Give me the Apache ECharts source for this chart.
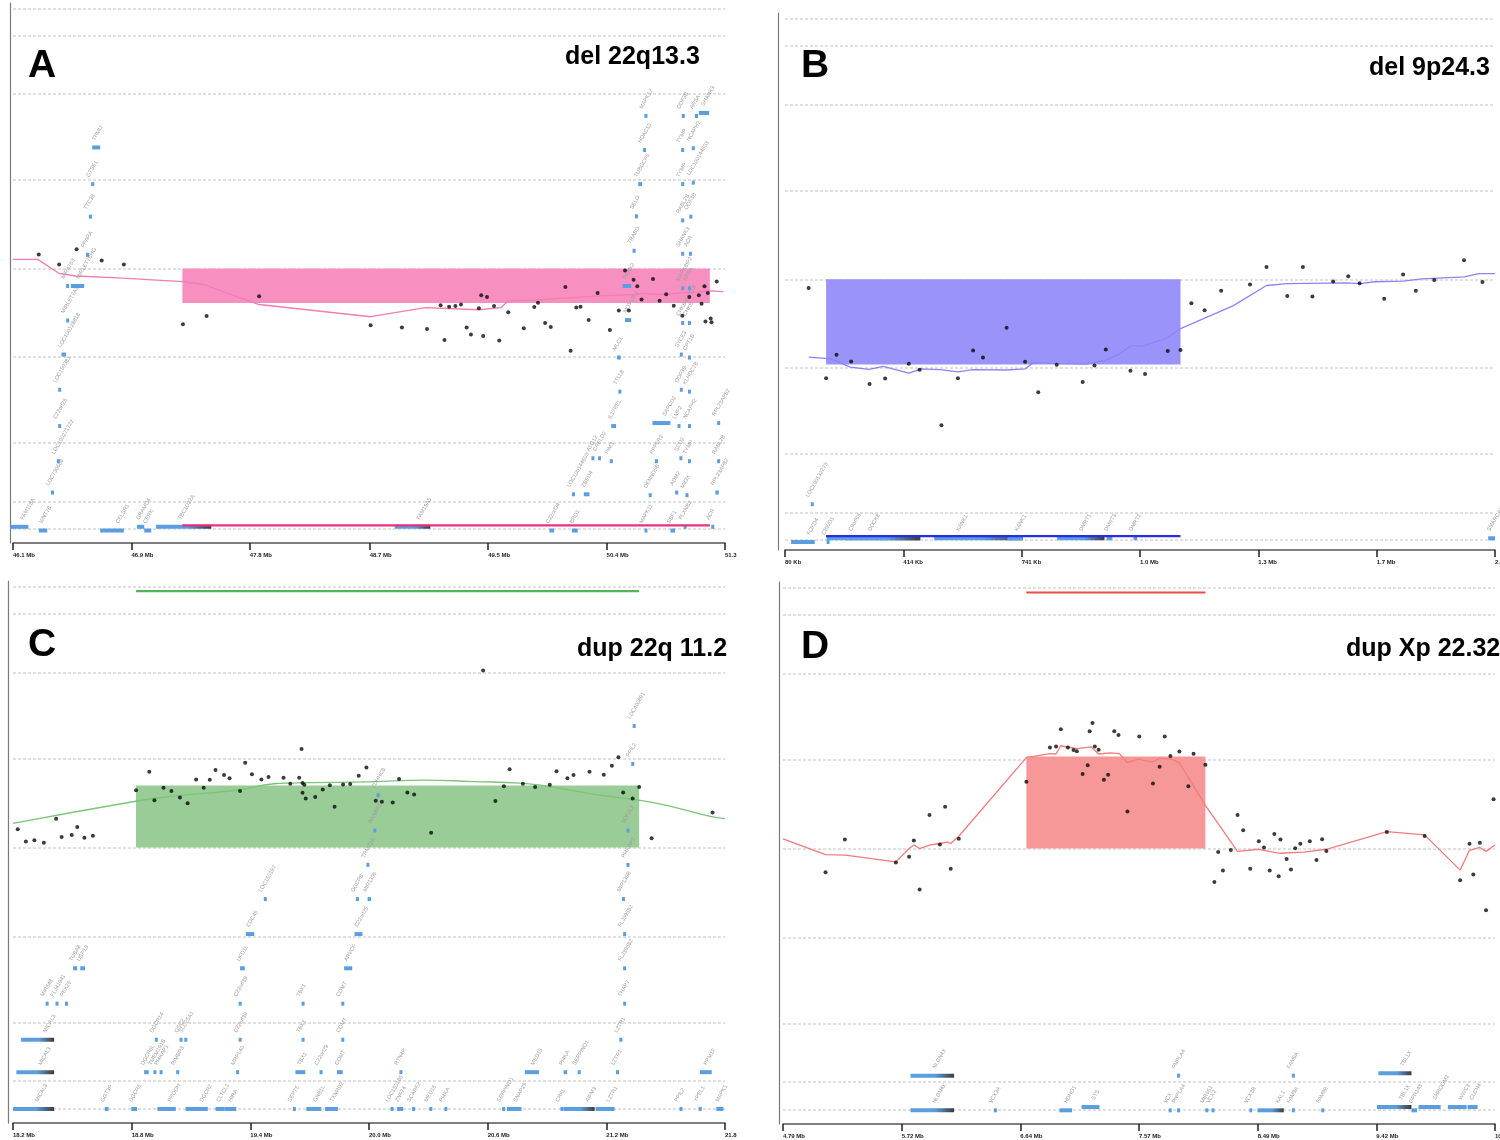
<!DOCTYPE html>
<html>
<head>
<meta charset="utf-8">
<script src="https://cdn.jsdelivr.net/npm/echarts@6.0.0/dist/echarts.min.js"></script>
<style>
html,body{margin:0;padding:0;background:#fff}
#main{width:1500px;height:1140px}
</style>
</head>
<body>
<div id="main"></div>
<script>
// ---------- data ----------
var gridLevels = [2.94, 2.63, 1.97, 1.0, 0, -1.0, -1.97, -2.63, -2.94];

// A : del 22q13.3
var ticksA = [46.08, 46.94, 47.80, 48.67, 49.53, 50.39, 51.25];
var tickLabelsA = ['46.1 Mb', '46.9 Mb', '47.8 Mb', '48.7 Mb', '49.5 Mb', '50.4 Mb', '51.3'];
var pointsA = [[46.267,0.159],[46.415,0.046],[46.542,0.217],[46.724,0.092],[46.885,0.046],[47.314,-0.628],[47.486,-0.536],[47.867,-0.314],[48.677,-0.641],[48.904,-0.666],[49.086,-0.682],[49.185,-0.415],[49.213,-0.808],[49.247,-0.431],[49.292,-0.423],[49.333,-0.406],[49.374,-0.666],[49.405,-0.745],[49.463,-0.448],[49.480,-0.302],[49.494,-0.762],[49.522,-0.322],[49.573,-0.423],[49.611,-0.812],[49.676,-0.494],[49.789,-0.674],[49.865,-0.435],[49.892,-0.385],[49.944,-0.615],[49.985,-0.661],[50.091,-0.209],[50.129,-0.929],[50.170,-0.440],[50.201,-0.431],[50.260,-0.582],[50.325,-0.276],[50.414,-0.695],[50.479,-0.473],[50.524,-0.021],[50.552,-0.473],[50.586,-0.126],[50.613,-0.201],[50.644,-0.348],[50.727,-0.117],[50.775,-0.364],[50.823,-0.289],[50.878,-0.419],[50.940,-0.532],[50.991,-0.322],[51.060,-0.302],[51.080,-0.398],[51.101,-0.201],[51.108,-0.599],[51.125,-0.276],[51.146,-0.565],[51.152,-0.607],[51.190,-0.147]];
var trendA = [[46.08,0.104],[46.26,0.104],[46.415,-0.055],[46.535,-0.084],[46.844,-0.105],[47.314,-0.147],[47.462,-0.180],[47.867,-0.406],[48.677,-0.544],[49.075,-0.440],[49.463,-0.465],[49.625,-0.440],[49.676,-0.364],[49.865,-0.356],[50.277,-0.314],[50.586,-0.293],[50.655,-0.281],[50.792,-0.293],[50.963,-0.272],[51.066,-0.264],[51.135,-0.251],[51.238,-0.260]];
var boxA = [47.31, 51.14, 0, -0.39];
var trackA = [47.31, 51.14, -2.90];
var genesA = [
  [46.061,46.192,-2.917,'FAM118A'],[46.267,46.329,-2.959,'WNT7B'],[46.713,46.885,-2.959,'CELSR1'],
  [46.981,47.033,-2.917,'GRAMD4'],[47.033,47.084,-2.959,'CERK'],[47.119,47.520,-2.917,'TBC1D22A'],
  [48.852,49.110,-2.917,'FAM19A5'],[49.975,50.009,-2.959,'C22orf34'],[50.139,50.181,-2.959,'BRD1'],
  [50.665,50.671,-2.959,'MAPK11'],[50.854,50.888,-2.959,'SBF1'],[50.950,50.956,-2.917,'PLXNB2'],
  [51.150,51.156,-2.917,'ACR'],
  [46.356,46.362,-2.53,'LOC730668'],[46.398,46.404,-2.176,'LOC100271722'],[46.408,46.414,-1.779,'C22orf26'],
  [46.408,46.414,-1.369,'LOC150381'],[46.432,46.466,-0.971,'LOC100128818'],[46.466,46.472,-0.586,'MIRLET7A3'],
  [46.466,46.472,-0.197,'MIR4763'],[46.500,46.597,-0.197,'MIRLET7BHG'],[46.610,46.616,0.155,'PPARA'],
  [46.631,46.637,0.586,'TTC38'],[46.648,46.654,0.954,'GTSE1'],[46.655,46.713,1.368,'TRMU'],
  [50.139,50.145,-2.55,'LOC100144603'],[50.225,50.266,-2.55,'ZBED4'],[50.280,50.286,-2.143,'ALG12'],
  [50.328,50.334,-2.143,'CRELD2'],[50.414,50.420,-2.176,'PIM3'],[50.424,50.459,-1.779,'IL17REL'],
  [50.476,50.482,-1.39,'TTLL8'],[50.466,50.493,-1.005,'MLC1'],[50.524,50.569,-0.582,'MOV10L1'],
  [50.507,50.569,-0.197,'PANX2'],[50.579,50.585,0.201,'TRABD'],[50.596,50.602,0.590,'SELO'],
  [50.620,50.648,0.954,'TUBGCP6'],[50.655,50.661,1.339,'HDAC10'],[50.665,50.671,1.724,'MAPK12'],
  [50.723,50.854,-1.745,'SAPCD2'],[50.696,50.702,-2.56,'DENND6B'],[50.741,50.747,-2.176,'PPP6R2'],
  [50.888,50.894,-2.53,'ADM2'],[50.963,50.969,-2.56,'MIOX'],[50.905,50.911,-1.779,'LMF2'],
  [50.981,50.987,-1.779,'NCAPH2'],[50.919,50.925,-2.143,'SCO2'],[50.981,50.987,-2.176,'TYMP'],
  [50.922,50.928,-1.369,'ODF3B'],[50.981,50.987,-1.39,'KLHDC7B'],[50.922,50.928,-0.971,'SYCE3'],
  [50.981,50.987,-1.005,'CPT1B'],[50.932,50.938,-0.615,'CHKB-CPT1B'],[50.981,50.987,-0.615,'CHKB'],
  [50.932,50.938,-0.222,'MAPK8IP2'],[50.981,50.987,-0.222,'ARSA'],[50.932,50.938,0.167,'SHANK3'],
  [50.988,50.994,0.167,'ACR'],[50.932,50.938,0.544,'RABL2B'],[50.991,50.997,0.586,'ODF3B'],
  [50.932,50.938,0.954,'TYMP'],[51.009,51.015,0.971,'LOC100144603'],[50.932,50.938,1.339,'TYMP'],
  [51.009,51.015,1.36,'NCAPH2'],[50.936,50.942,1.724,'ODF3B'],[51.032,51.038,1.724,'ARSA'],
  [51.060,51.135,1.758,'SHANK3'],[51.193,51.199,-2.176,'RABL2B'],[51.193,51.199,-1.745,'RPL23AP82'],
  [51.180,51.205,-2.53,'RPL23AP82']
];

// B : del 9p24.3 (kb)
var ticksB = [80, 410, 740, 1070, 1400, 1730, 2060];
var tickLabelsB = ['80 Kb', '414 Kb', '741 Kb', '1.0 Mb', '1.3 Mb', '1.7 Mb', '2.0'];
var pointsB = [[145.9,-0.099],[194.6,-1.114],[223.6,-0.851],[264.5,-0.926],[315.9,-1.181],[359.3,-1.118],[425.2,-0.951],[455.5,-1.018],[516.2,-1.644],[562.3,-1.114],[604.5,-0.801],[632.1,-0.880],[698.0,-0.546],[749.4,-0.930],[786.3,-1.273],[837.7,-0.964],[910.2,-1.156],[943.1,-0.972],[974.7,-0.792],[1043.3,-1.030],[1084.1,-1.068],[1147.4,-0.809],[1183.0,-0.797],[1213.3,-0.270],[1250.2,-0.350],[1296.3,-0.128],[1376.7,-0.058],[1422.8,0.139],[1480.8,-0.187],[1524.3,0.139],[1550.7,-0.195],[1608.7,-0.024],[1650.8,0.034],[1682.4,-0.045],[1751.0,-0.220],[1803.7,0.055],[1839.2,-0.128],[1890.6,-0.007],[1973.6,0.214],[2025.0,-0.032]];
var trendB = [[145.9,-0.876],[209.1,-0.897],[261.8,-0.989],[314.5,-1.014],[354.1,-0.980],[425.2,-1.056],[459.5,-1.010],[512.2,-1.018],[562.3,-1.043],[604.5,-1.018],[696.7,-1.022],[749.4,-1.010],[773.1,-0.939],[828.5,-0.947],[920.7,-0.955],[973.4,-0.914],[1013.0,-0.843],[1043.3,-0.751],[1078.9,-0.751],[1144.7,-0.663],[1183.0,-0.555],[1329.2,-0.300],[1422.8,-0.070],[1480.8,-0.049],[1645.5,-0.041],[1685.0,-0.049],[1724.5,-0.028],[1803.7,-0.020],[1856.4,0.005],[1975.0,0.026],[2014.5,0.064],[2060,0.064]];
var boxB = [194.6, 1183.0, 0, -0.96];
var trackB = [194.6, 1183.0, -2.893];
var genesB = [
  [97,163,-2.960,'FOXD4'],[196,202,-2.960,'CBWD1'],[196,457,-2.918,'C9orf66'],[250,457,-2.918,'DOCK8'],
  [496,743,-2.918,'KANK1'],[700,743,-2.918,'KANK1'],[839,971,-2.918,'DMRT1'],[977,993,-2.918,'DMRT3'],
  [1052,1062,-2.918,'DMRT2'],[2041,2060,-2.918,'SMARCA2'],[152,155,-2.534,'LOC100132273']
];

// C : dup 22q 11.2
var ticksC = [18.2, 18.8, 19.4, 20.0, 20.6, 21.2, 21.8];
var tickLabelsC = ['18.2 Mb', '18.8 Mb', '19.4 Mb', '20.0 Mb', '20.6 Mb', '21.2 Mb', '21.8'];
var pointsC = [[18.186,0.244],[18.224,0.207],[18.265,0.069],[18.308,0.081],[18.356,0.053],[18.418,0.325],[18.446,0.118],[18.497,0.142],[18.525,0.231],[18.561,0.110],[18.604,0.134],[18.822,0.645],[18.889,0.852],[18.915,0.532],[18.961,0.674],[19.001,0.637],[19.044,0.564],[19.083,0.499],[19.126,0.767],[19.164,0.674],[19.195,0.763],[19.224,0.873],[19.267,0.816],[19.295,0.779],[19.348,0.637],[19.374,0.954],[19.408,0.824],[19.456,0.767],[19.492,0.795],[19.568,0.787],[19.602,0.718],[19.647,0.787],[19.659,1.108],[19.664,0.726],[19.664,0.617],[19.673,0.706],[19.680,0.552],[19.728,0.568],[19.766,0.653],[19.802,0.702],[19.826,0.459],[19.869,0.710],[19.905,0.714],[19.948,0.808],[19.987,0.901],[20.034,0.528],[20.065,0.516],[20.120,0.507],[20.152,0.771],[20.194,0.621],[20.228,0.597],[20.314,0.166],[20.577,1.993],[20.639,0.524],[20.682,0.690],[20.711,0.881],[20.778,0.718],[20.840,0.682],[20.914,0.706],[20.948,0.860],[21.003,0.779],[21.034,0.816],[21.115,0.852],[21.187,0.820],[21.228,0.921],[21.261,1.015],[21.285,0.621],[21.333,0.552],[21.366,0.682],[21.429,0.106],[21.737,0.394]];
var trendC = [[18.2,0.272],[18.827,0.524],[18.994,0.576],[19.329,0.645],[19.520,0.718],[19.604,0.726],[19.712,0.731],[19.998,0.739],[20.285,0.759],[20.524,0.743],[20.764,0.726],[20.883,0.698],[21.122,0.605],[21.314,0.548],[21.481,0.487],[21.720,0.353],[21.8,0.325]];
var boxC = [18.822, 21.366, 0.698, 0];
var trackC = [18.822, 21.366, 2.885];
var genesC = [
  [18.200,18.408,-2.942,'MICAL3'],[18.664,18.683,-2.942,'GGT3P'],[18.798,18.827,-2.942,'DGCR6'],
  [18.930,19.023,-2.942,'PRODH'],[19.073,19.185,-2.942,'DGCR2'],[19.224,19.270,-2.942,'CLTCL1'],
  [19.270,19.329,-2.942,'HIRA'],[19.615,19.620,-2.942,'SEPT5'],[19.683,19.759,-2.942,'GNB1L'],
  [19.778,19.843,-2.942,'TXNRD2'],[20.109,20.113,-2.942,'LOC150185'],[20.142,20.173,-2.942,'ZNF74'],
  [20.218,20.222,-2.942,'SCARF2'],[20.305,20.309,-2.942,'MED15'],[20.381,20.385,-2.942,'PI4KA'],
  [20.673,20.677,-2.942,'SERPIND1'],[20.697,20.771,-2.942,'SNAP29'],[20.968,20.972,-2.942,'CRKL'],
  [20.984,21.141,-2.942,'AIFM3'],[21.146,21.242,-2.942,'LZTR1'],[21.570,21.574,-2.942,'PPIL2'],
  [21.667,21.671,-2.942,'YPEL1'],[21.756,21.792,-2.942,'MAPK1'],
  [18.217,18.408,-2.528,'MICAL3'],[18.863,18.886,-2.528,'DGCR6L'],[18.910,18.914,-2.528,'TMEM191B'],
  [18.941,18.945,-2.528,'PI4KAP1'],[19.025,19.029,-2.528,'RIMBP3'],[19.328,19.332,-2.528,'MRPL40'],
  [19.628,19.678,-2.528,'TBX1'],[19.750,19.754,-2.528,'C22orf29'],[19.838,19.867,-2.528,'COMT'],
  [20.154,20.158,-2.528,'RTN4R'],[20.788,20.859,-2.528,'MED15'],[20.984,21.002,-2.528,'PI4KA'],
  [21.055,21.059,-2.528,'SERPIND1'],[21.249,21.253,-2.528,'LZTR1'],[21.673,21.733,-2.528,'PPM1F'],
  [18.241,18.408,-2.163,'MICAL3'],[18.917,18.921,-2.163,'DGCR14'],[19.042,19.046,-2.163,'GSC2'],
  [19.066,19.070,-2.163,'SLC25A1'],[19.341,19.345,-2.163,'C22orf39'],[19.659,19.663,-2.163,'TBX1'],
  [19.860,19.864,-2.163,'COMT'],[21.266,21.270,-2.163,'LZTR1'],
  [18.365,18.369,-1.757,'MIR648'],[18.415,18.419,-1.757,'FLJ41941'],[18.463,18.467,-1.757,'PEX26'],
  [19.341,19.345,-1.757,'C22orf39'],[19.659,19.663,-1.757,'TBX1'],[19.860,19.864,-1.757,'COMT'],
  [21.285,21.289,-1.757,'THAP7'],
  [18.504,18.525,-1.359,'TUBA8'],[18.540,18.564,-1.359,'USP18'],[19.348,19.372,-1.359,'UFD1L'],
  [19.874,19.915,-1.359,'ARVCF'],[21.285,21.289,-1.359,'FLJ39582'],
  [19.377,19.420,-0.974,'CDC45'],[19.927,19.967,-0.974,'C22orf25'],[21.285,21.289,-0.974,'FLJ39582'],
  [19.468,19.472,-0.580,'LOC150197'],[19.934,19.938,-0.580,'DGCR8'],[19.993,20.010,-0.580,'MIR1306'],
  [21.279,21.283,-0.580,'MIR130B'],[19.987,19.991,-0.195,'TRMT2A'],[21.302,21.306,-0.195,'PI4KAP2'],
  [20.022,20.026,0.191,'RANBP1'],[21.302,21.306,0.191,'SDF2L1'],[20.039,20.043,0.589,'ZDHHC8'],
  [21.326,21.330,0.941,'PPIL2'],[21.333,21.342,1.368,'LOC400891']
];

// D : dup Xp 22.32
var ticksD = [4.79, 5.716, 6.642, 7.568, 8.494, 9.42, 10.346];
var tickLabelsD = ['4.79 Mb', '5.72 Mb', '6.64 Mb', '7.57 Mb', '8.49 Mb', '9.42 Mb', '10.3'];
var pointsD = [[5.122,-0.267],[5.273,0.102],[5.671,-0.158],[5.774,-0.093],[5.811,0.090],[5.856,-0.462],[5.933,0.378],[6.014,0.045],[6.055,0.471],[6.099,-0.227],[6.162,0.110],[6.689,0.751],[6.873,1.137],[6.921,1.149],[6.958,1.344],[7.013,1.137],[7.057,1.108],[7.083,1.096],[7.128,0.840],[7.168,0.938],[7.183,1.319],[7.205,1.413],[7.223,1.149],[7.253,1.112],[7.294,0.775],[7.327,0.832],[7.375,1.319],[7.408,1.279],[7.478,0.418],[7.570,1.262],[7.677,0.731],[7.729,0.922],[7.769,1.262],[7.813,1.043],[7.883,1.092],[7.953,0.702],[7.994,1.068],[8.086,0.942],[8.156,-0.377],[8.186,-0.040],[8.223,-0.247],[8.285,-0.016],[8.337,0.378],[8.381,0.207],[8.436,-0.227],[8.503,0.081],[8.543,0.012],[8.588,-0.247],[8.624,0.163],[8.658,-0.312],[8.672,0.102],[8.720,-0.117],[8.754,-0.235],[8.787,0.004],[8.827,0.053],[8.901,0.081],[8.953,-0.130],[8.997,0.106],[9.030,-0.028],[9.502,0.187],[9.797,0.142],[10.074,-0.357],[10.147,0.053],[10.177,-0.292],[10.228,0.065],[10.276,-0.694],[10.335,0.556]];
var trendD = [[4.79,0.110],[5.122,-0.069],[5.277,-0.073],[5.671,-0.150],[5.774,0.000],[5.811,0.041],[5.856,0.000],[5.940,0.041],[6.014,0.057],[6.069,0.073],[6.099,0.057],[6.162,0.138],[6.689,1.023],[6.873,1.068],[6.921,1.064],[6.958,1.157],[7.083,1.124],[7.194,1.145],[7.253,1.064],[7.341,1.076],[7.415,1.068],[7.478,0.966],[7.563,1.007],[7.673,0.974],[7.729,1.015],[7.821,1.007],[7.883,0.966],[8.086,0.487],[8.337,-0.032],[8.503,-0.008],[8.543,-0.020],[8.669,-0.053],[8.853,-0.040],[9.030,-0.008],[9.502,0.191],[9.797,0.154],[10.074,-0.243],[10.147,-0.020],[10.228,0.012],[10.276,-0.032],[10.346,0.041]];
var boxD = [6.689, 8.086, 1.035, 0];
var trackD = [6.689, 8.086, 2.882];
var genesD = [
  [5.785,6.125,-2.946,'NLGN4X'],[6.436,6.440,-2.946,'VCX3A'],[6.947,7.046,-2.946,'HDHD1'],
  [7.120,7.260,-2.909,'STS'],[7.800,7.804,-2.946,'VCX'],[7.865,7.869,-2.946,'PNPLA4'],
  [8.086,8.090,-2.946,'MIR651'],[8.134,8.138,-2.946,'VCX2'],[8.429,8.433,-2.946,'VCX3B'],
  [8.492,8.698,-2.946,'KAL1'],[8.761,8.765,-2.946,'FAM9A'],[8.990,8.994,-2.946,'FAM9B'],
  [9.425,9.694,-2.909,'TBL1X'],[9.694,9.738,-2.946,'GPR143'],[9.749,9.922,-2.909,'SHROOM2'],
  [9.978,10.125,-2.909,'WWC3'],[10.132,10.210,-2.909,'CLCN4'],
  [5.785,6.125,-2.556,'NLGN4X'],[7.865,7.887,-2.556,'PNPLA4'],[8.761,8.765,-2.556,'FAM9A'],
  [9.436,9.694,-2.528,'TBL1X']
];

// ---------- build ----------
var grids = [], xAxes = [], yAxes = [], series = [];

function nearest(arr, v) {
  var best = 0;
  for (var i = 1; i < arr.length; i++) {
    if (Math.abs(arr[i] - v) < Math.abs(arr[best] - v)) best = i;
  }
  return best;
}

function geneRender(genes) {
  return function (params, api) {
    var g = genes[params.dataIndex];
    var p1 = api.coord([g[0], g[2]]);
    var p2 = api.coord([g[1], g[2]]);
    var w = Math.max(p2[0] - p1[0], 3);
    var fill = '#5b9ee0';
    if (w > 25) {
      fill = new echarts.graphic.LinearGradient(0, 0, 1, 0, [
        {offset: 0, color: '#5b9ee0'}, {offset: 0.55, color: '#5b9ee0'}, {offset: 1, color: '#3a3a3a'}
      ]);
    }
    return {
      type: 'group',
      children: [
        {type: 'rect', shape: {x: p1[0], y: p1[1] - 2, width: w, height: 4}, style: {fill: fill}},
        {type: 'text', x: p1[0] + Math.min(w, 30) - 4, y: p1[1] - 6, rotation: Math.PI / 3,
          style: {text: g[3], fontSize: 5.5, fill: '#9a9a9a', align: 'left', verticalAlign: 'bottom',
            fontFamily: 'Liberation Sans'}}
      ]
    };
  };
}

function addPanel(p) {
  var i = grids.length;
  grids.push({left: p.left, top: p.top, width: p.width, height: p.height, outerBoundsMode: 'none'});
  xAxes.push({
    type: 'value', gridIndex: i, min: p.ticks[0], max: p.ticks[p.ticks.length - 1],
    axisLine: {onZero: false, lineStyle: {color: '#555', width: 1.5}},
    axisTick: {customValues: p.ticks, length: 7, lineStyle: {color: '#222', width: 1.5}},
    axisLabel: {customValues: p.ticks, fontSize: 6, color: '#222', margin: 9, align: 'left',
      fontFamily: 'Liberation Sans', fontWeight: 'bold',
      formatter: function (v) { return p.labels[nearest(p.ticks, v)]; }},
    splitLine: {show: false}
  });
  yAxes.push({
    type: 'value', gridIndex: i, min: p.yMin, max: p.yMax, offset: p.yOffset,
    axisLine: {show: true, onZero: false, lineStyle: {color: '#7a7a7a', width: 1.2}},
    axisTick: {show: false}, axisLabel: {show: false}, splitLine: {show: false}
  });
  // smoothed ratio line, with gridlines and the called segment box
  series.push({
    type: 'line', xAxisIndex: i, yAxisIndex: i, data: p.trend, smooth: p.smooth,
    showSymbol: false, lineStyle: {color: p.lineColor, width: 1.3}, z: 3, silent: true,
    markLine: {silent: true, z: 1, symbol: ['none', 'none'], label: {show: false},
      lineStyle: {color: '#d6d6d6', type: [3, 2], width: 1.5},
      data: gridLevels.map(function (v) { return {yAxis: v}; })},
    markArea: {silent: true, z: 2, itemStyle: {color: p.boxColor, opacity: 1},
      data: [[{xAxis: p.box[0], yAxis: p.box[2]}, {xAxis: p.box[1], yAxis: p.box[3]}]]}
  });
  // segment bar in the track
  series.push({
    type: 'line', xAxisIndex: i, yAxisIndex: i, showSymbol: false, silent: true, z: 4,
    data: [[p.track[0], p.track[2]], [p.track[1], p.track[2]]],
    lineStyle: {color: p.trackColor, width: 2.2}
  });
  // genes
  series.push({
    type: 'custom', xAxisIndex: i, yAxisIndex: i, z: 4, silent: true,
    data: p.genes.map(function (g) { return [g[0], g[1], g[2]]; }),
    encode: {x: [0, 1], y: 2},
    renderItem: geneRender(p.genes)
  });
  // probes
  series.push({
    type: 'scatter', xAxisIndex: i, yAxisIndex: i, data: p.points, z: 5, silent: true,
    symbol: 'circle', symbolSize: 4, itemStyle: {color: '#0a0a0a'}
  });
}

addPanel({left: 13, top: 3, width: 712, height: 540, yMin: -3.1, yMax: 3.0, yOffset: 3,
  ticks: ticksA, labels: tickLabelsA, points: pointsA, trend: trendA, box: boxA, track: trackA, genes: genesA,
  smooth: false, lineColor: '#f27cb4', boxColor: '#f790c0', trackColor: '#e8307f'});
addPanel({left: 785, top: 13, width: 710, height: 537, yMin: -3.05, yMax: 3.0, yOffset: 7,
  ticks: ticksB, labels: tickLabelsB, points: pointsB, trend: trendB, box: boxB, track: trackB, genes: genesB,
  smooth: false, lineColor: '#8a84f6', boxColor: '#9a93fa', trackColor: '#2b2be6'});
addPanel({left: 13, top: 581, width: 712, height: 542, yMin: -3.1, yMax: 3.0, yOffset: 5,
  ticks: ticksC, labels: tickLabelsC, points: pointsC, trend: trendC, box: boxC, track: trackC, genes: genesC,
  smooth: true, lineColor: '#7cc47a', boxColor: '#99cc97', trackColor: '#56b356'});
addPanel({left: 783, top: 582, width: 712, height: 542, yMin: -3.1, yMax: 3.0, yOffset: 4,
  ticks: ticksD, labels: tickLabelsD, points: pointsD, trend: trendD, box: boxD, track: trackD, genes: genesD,
  smooth: false, lineColor: '#f07c7c', boxColor: '#f79898', trackColor: '#ee4a4a'});

var letterStyle = {fontSize: 39, fontWeight: 'bold', color: '#000', fontFamily: 'Liberation Sans'};
var nameStyle = {fontSize: 25, fontWeight: 'bold', color: '#000', fontFamily: 'Liberation Sans'};

var chart = echarts.init(document.getElementById('main'), null, {renderer: 'canvas'});
chart.setOption({
  backgroundColor: '#fff',
  animation: false,
  title: [
    {text: 'A', left: 28, top: 47, padding: 0, textStyle: letterStyle},
    {text: 'del 22q13.3', left: 565, top: 45, padding: 0, textStyle: nameStyle},
    {text: 'B', left: 801, top: 47, padding: 0, textStyle: letterStyle},
    {text: 'del 9p24.3', left: 1369, top: 56, padding: 0, textStyle: nameStyle},
    {text: 'C', left: 28, top: 626, padding: 0, textStyle: letterStyle},
    {text: 'dup 22q 11.2', left: 577, top: 637, padding: 0, textStyle: nameStyle},
    {text: 'D', left: 801, top: 628, padding: 0, textStyle: letterStyle},
    {text: 'dup Xp 22.32', left: 1346, top: 637, padding: 0, textStyle: nameStyle}
  ],
  grid: grids,
  xAxis: xAxes,
  yAxis: yAxes,
  series: series
});
</script>
</body>
</html>
